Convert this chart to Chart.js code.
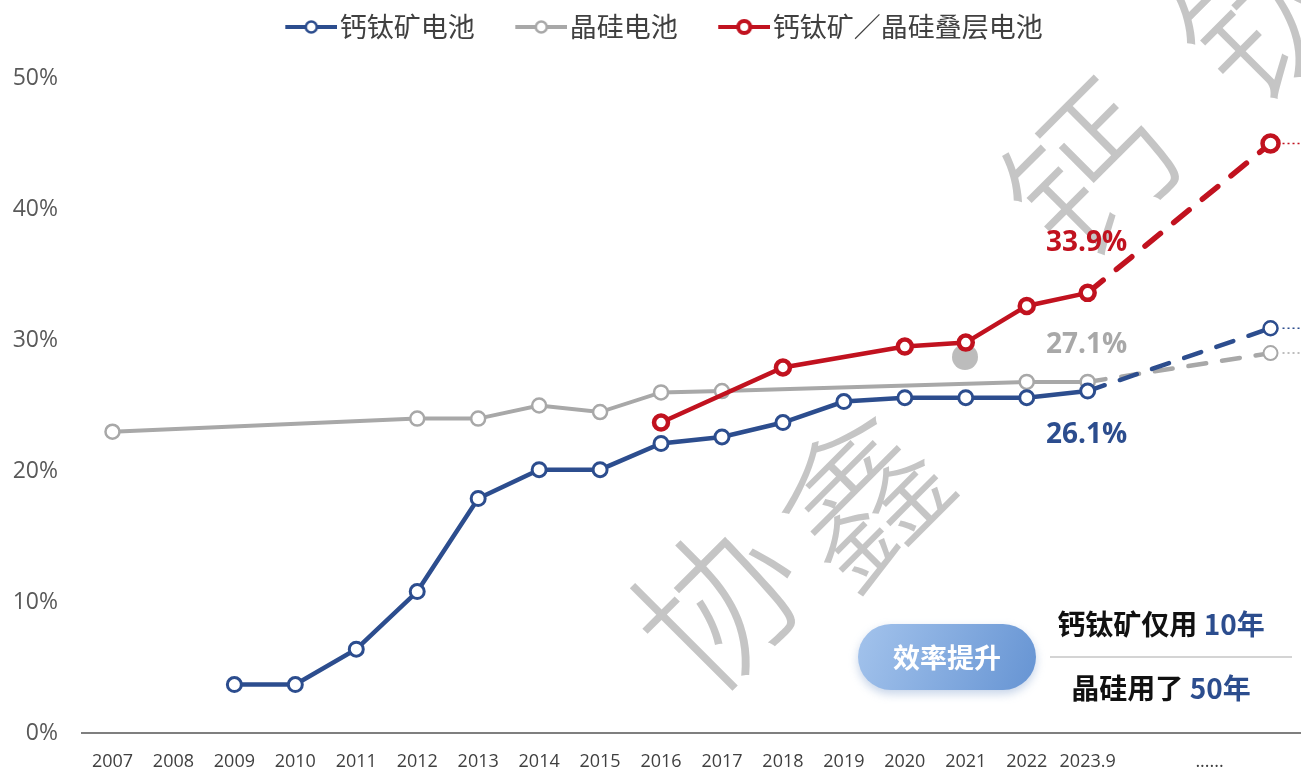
<!DOCTYPE html>
<html lang="zh">
<head>
<meta charset="utf-8">
<title>钙钛矿电池效率</title>
<script src="https://cdn.jsdelivr.net/npm/chart.js@4.4.1/dist/chart.umd.min.js"></script>
<style>
  html, body { margin: 0; padding: 0; background: #fff; }
  #wrap { width: 1301px; height: 771px; }
</style>
</head>
<body>
<div id="wrap"><canvas id="effChart" width="1301" height="771"></canvas></div>
<script>
// x axis categories (the last three are the outlook slot)
const years = ['2007', '2008', '2009', '2010', '2011', '2012', '2013', '2014', '2015',
               '2016', '2017', '2018', '2019', '2020', '2021', '2022', '2023.9', '', '......', ''];

// efficiency, %
const perovskite = [null, null, 3.7, 3.7, 6.4, 10.8, 17.9, 20.1, 20.1,
                    22.1, 22.6, 23.7, 25.3, 25.6, 25.6, 25.6, 26.1, null, null, null];
const silicon    = [23.0, null, null, null, null, 24.0, 24.0, 25.0, 24.5,
                    26.0, 26.1, null, null, null, null, 26.8, 26.8, null, null, null];
const tandem     = [null, null, null, null, null, null, null, null, null,
                    23.7, null, 27.9, null, 29.5, 29.8, 32.6, 33.6, null, null, null];

// dashed outlook after 2023.9
const perovskiteOutlook = [null, null, null, null, null, null, null, null, null, null,
                           null, null, null, null, null, null, 26.1, null, null, 30.9];
const siliconOutlook    = [null, null, null, null, null, null, null, null, null, null,
                           null, null, null, null, null, null, 26.8, null, null, 29.0];
const tandemOutlook     = [null, null, null, null, null, null, null, null, null, null,
                           null, null, null, null, null, null, 33.6, null, null, 45.0];

const seriesNames = ['钙钛矿电池', '晶硅电池', '钙钛矿／晶硅叠层电池'];
const latestLabels = ['26.1%', '27.1%', '33.9%'];

const BLUE = '#2c4d8e';
const GREY = '#a8a8a8';
const RED = '#c1121f';
const seriesColors = [BLUE, GREY, RED];
const OUTLOOK_INDEX = 19;
const LATEST_INDEX = 16;

// legend icon: short line with a ring in the middle (drawn at the right end of the image)
function legendIcon(color, ringWidth, r) {
    const c = document.createElement('canvas');
    c.width = 90;
    c.height = 20;
    const g = c.getContext('2d');
    g.strokeStyle = color;
    g.lineWidth = 4;
    g.beginPath();
    g.moveTo(38, 10);
    g.lineTo(90, 10);
    g.stroke();
    g.beginPath();
    g.arc(64, 10, r, 0, Math.PI * 2);
    g.fillStyle = '#fff';
    g.fill();
    g.lineWidth = ringWidth;
    g.stroke();
    return c;
}
const legendIcons = [legendIcon(BLUE, 2.5, 5.5), legendIcon(GREY, 2.5, 5.5), legendIcon(RED, 4, 6)];

function outlookRadius(r) {
    return ctx => ctx.dataIndex === OUTLOOK_INDEX ? r : 0;
}

// keep the legend band as tall as the reference
const legendSpace = {
    id: 'legendSpace',
    beforeLayout(chart) {
        const lg = chart.legend;
        if (lg && !lg._spaced) {
            const fit = lg.fit;
            lg.fit = function () {
                fit.call(this);
                this.height = 78;
            };
            lg._spaced = true;
        }
    }
};

// watermark behind the lines
const watermark = {
    id: 'watermark',
    beforeDatasetsDraw(chart) {
        const ctx = chart.ctx;
        const marks = [['协', 718, 603], ['鑫', 862, 497], ['钙', 1088, 172], ['钛', 1262, 14]];
        ctx.save();
        ctx.fillStyle = 'rgba(150,150,150,0.55)';
        ctx.font = '300 160px "Noto Sans CJK SC"';
        ctx.textAlign = 'center';
        ctx.textBaseline = 'middle';
        marks.forEach(([ch, x, y]) => {
            ctx.save();
            ctx.translate(x, y);
            ctx.rotate(-45 * Math.PI / 180);
            ctx.fillText(ch, 0, 0);
            ctx.restore();
        });
        ctx.beginPath();
        ctx.arc(965, 357, 13, 0, Math.PI * 2);
        ctx.fillStyle = 'rgba(165,165,165,0.75)';
        ctx.fill();
        ctx.restore();
    }
};

// value labels at 2023.9 and dotted tails after the outlook points
const lineNotes = {
    id: 'lineNotes',
    afterDatasetsDraw(chart) {
        const ctx = chart.ctx;
        const area = chart.chartArea;
        const offsets = [44, -37, -50];
        ctx.save();
        for (let i = 0; i < 3; i++) {
            const p = chart.getDatasetMeta(i).data[LATEST_INDEX];
            ctx.font = 'bold 28px "Open Sans"';
            ctx.fillStyle = seriesColors[i];
            ctx.textAlign = 'center';
            ctx.textBaseline = 'middle';
            ctx.fillText(latestLabels[i], p.x - 1, p.y + offsets[i]);

            const q = chart.getDatasetMeta(i + 3).data[OUTLOOK_INDEX];
            ctx.beginPath();
            ctx.setLineDash([2, 3]);
            ctx.lineWidth = 1.5;
            ctx.strokeStyle = seriesColors[i];
            ctx.moveTo(q.x + 12, q.y);
            ctx.lineTo(area.right, q.y);
            ctx.stroke();
            ctx.setLineDash([]);
        }
        ctx.restore();
    }
};

// "效率提升" badge and the two comparison lines
const badge = {
    id: 'badge',
    afterDraw(chart) {
        const ctx = chart.ctx;
        const x = 858, y = 624, w = 178, h = 66, r = 33;
        ctx.save();
        ctx.beginPath();
        ctx.moveTo(x + r, y);
        ctx.lineTo(x + w - r, y);
        ctx.arc(x + w - r, y + r, r, -Math.PI / 2, Math.PI / 2);
        ctx.lineTo(x + r, y + h);
        ctx.arc(x + r, y + r, r, Math.PI / 2, Math.PI * 1.5);
        ctx.closePath();
        const grad = ctx.createLinearGradient(x, y, x + w, y + h);
        grad.addColorStop(0, '#a3c3ec');
        grad.addColorStop(1, '#6694d3');
        ctx.shadowColor = 'rgba(90,130,190,0.35)';
        ctx.shadowBlur = 10;
        ctx.shadowOffsetY = 4;
        ctx.fillStyle = grad;
        ctx.fill();
        ctx.shadowColor = 'transparent';

        ctx.font = 'bold 27px "Noto Sans CJK SC"';
        ctx.fillStyle = '#fff';
        ctx.textAlign = 'center';
        ctx.textBaseline = 'middle';
        ctx.fillText('效率提升', x + w / 2, y + h / 2 + 1);

        ctx.strokeStyle = '#d4d4d4';
        ctx.lineWidth = 2;
        ctx.beginPath();
        ctx.moveTo(1050, 657);
        ctx.lineTo(1292, 657);
        ctx.stroke();

        const rows = [['钙钛矿仅用 ', '10年', 624], ['晶硅用了 ', '50年', 688]];
        ctx.font = 'bold 28px "Noto Sans CJK SC"';
        ctx.textAlign = 'left';
        rows.forEach(([a, b, ty]) => {
            const wa = ctx.measureText(a).width;
            const wb = ctx.measureText(b).width;
            const sx = 1161 - (wa + wb) / 2;
            ctx.fillStyle = '#111';
            ctx.fillText(a, sx, ty);
            ctx.fillStyle = BLUE;
            ctx.fillText(b, sx + wa, ty);
        });
        ctx.restore();
    }
};

const chart = new Chart(document.getElementById('effChart'), {
    type: 'line',
    data: {
        labels: years,
        datasets: [
            {
                label: seriesNames[0], data: perovskite, order: 2,
                borderColor: BLUE, borderWidth: 4.5,
                pointRadius: 7, pointBorderWidth: 3,
                pointBackgroundColor: '#fff', pointBorderColor: BLUE
            },
            {
                label: seriesNames[1], data: silicon, order: 3,
                borderColor: GREY, borderWidth: 4,
                pointRadius: 7, pointBorderWidth: 2.5,
                pointBackgroundColor: '#fff', pointBorderColor: GREY
            },
            {
                label: seriesNames[2], data: tandem, order: 1,
                borderColor: RED, borderWidth: 4.5,
                pointRadius: 7, pointBorderWidth: 4.5,
                pointBackgroundColor: '#fff', pointBorderColor: RED
            },
            {
                label: 'outlook-1', data: perovskiteOutlook, order: 2,
                borderColor: BLUE, borderWidth: 4.5, borderDash: [18, 16], borderCapStyle: 'round',
                pointRadius: outlookRadius(7), pointBorderWidth: 2.5,
                pointBackgroundColor: '#fff', pointBorderColor: BLUE
            },
            {
                label: 'outlook-2', data: siliconOutlook, order: 3,
                borderColor: GREY, borderWidth: 4.5, borderDash: [18, 16], borderCapStyle: 'round',
                pointRadius: outlookRadius(7), pointBorderWidth: 2,
                pointBackgroundColor: '#fff', pointBorderColor: GREY
            },
            {
                label: 'outlook-3', data: tandemOutlook, order: 1,
                borderColor: RED, borderWidth: 5.5, borderDash: [20, 17], borderCapStyle: 'round',
                pointRadius: outlookRadius(8), pointBorderWidth: 4.5,
                pointBackgroundColor: '#fff', pointBorderColor: RED
            }
        ]
    },
    options: {
        responsive: false,
        animation: false,
        spanGaps: true,
        layout: { padding: 0, autoPadding: false },
        plugins: {
            tooltip: { enabled: false },
            legend: {
                position: 'top',
                align: 'center',
                labels: {
                    usePointStyle: true,
                    pointStyleWidth: 68,
                    padding: 13.5,
                    color: '#404040',
                    font: { family: '"Noto Sans CJK SC"', size: 27 },
                    generateLabels: () => seriesNames.map((name, i) => ({
                        text: name,
                        pointStyle: legendIcons[i],
                        fillStyle: 'transparent',
                        strokeStyle: 'transparent',
                        lineWidth: 0,
                        hidden: false,
                        datasetIndex: i,
                        fontColor: '#404040'
                    }))
                }
            }
        },
        scales: {
            x: {
                offset: true,
                grid: { display: false, drawTicks: false },
                border: { display: true, color: '#7f7f7f', width: 2 },
                ticks: {
                    autoSkip: false, maxRotation: 0, padding: 18,
                    color: '#404040',
                    font: { family: '"Open Sans"', size: 18 }
                },
                afterFit(scale) {
                    scale.height = 38;
                    scale.paddingLeft = 0;
                    scale.paddingRight = 0;
                }
            },
            y: {
                min: 0, max: 50,
                grid: { display: false, drawTicks: false },
                border: { display: false },
                ticks: {
                    stepSize: 10, padding: 24,
                    color: '#595959',
                    font: { family: '"Open Sans"', size: 23 },
                    callback: v => v + '%'
                },
                afterFit(scale) { scale.width = 82; }
            }
        }
    },
    plugins: [legendSpace, watermark, lineNotes, badge]
});
</script>
</body>
</html>
